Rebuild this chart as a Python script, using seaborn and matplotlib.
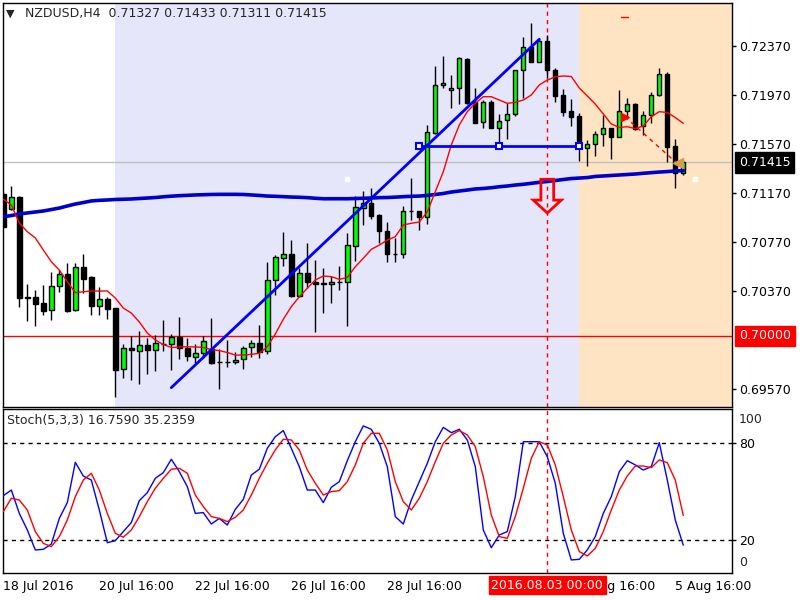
import numpy as np
import pandas as pd
import seaborn as sns
import matplotlib.pyplot as plt
import matplotlib.transforms as mtransforms
from matplotlib.patches import Polygon

# NZDUSD H4 candles, 18 Jul 2016 16:00 .. 5 Aug 2016 20:00
opens = [0.71158, 0.71033, 0.71136, 0.70314, 0.70317, 0.70268, 0.70208, 0.70404, 0.70502, 0.70208,
         0.70559, 0.70480, 0.70246, 0.70301, 0.70225, 0.69727, 0.69897, 0.69879, 0.69925, 0.69886,
         0.69931, 0.69931, 0.69990, 0.69901, 0.69831, 0.69857, 0.69891, 0.69785, 0.69785, 0.69785,
         0.69808, 0.69906, 0.69939, 0.69874, 0.70454, 0.70638, 0.70666, 0.70328, 0.70510, 0.70439,
         0.70427, 0.70421, 0.70437, 0.70437, 0.70737, 0.71041, 0.71082, 0.70989, 0.70856, 0.70670,
         0.70666, 0.71017, 0.71019, 0.70968, 0.71656, 0.72045, 0.72004, 0.72021, 0.72260, 0.71906,
         0.71743, 0.71906, 0.71694, 0.71759, 0.71808, 0.72168, 0.72355, 0.72238, 0.72407, 0.72168,
         0.71966, 0.71833, 0.71795, 0.71531, 0.71563, 0.71645, 0.71695, 0.71621, 0.71835, 0.71891,
         0.71713, 0.71800, 0.71964, 0.72137, 0.71550, 0.71327]
highs = [0.71174, 0.71223, 0.71141, 0.70423, 0.70374, 0.70415, 0.70521, 0.70537, 0.70592, 0.70592,
         0.70668, 0.70488, 0.70396, 0.70314, 0.70227, 0.69933, 0.70001, 0.70039, 0.69982, 0.70007,
         0.70129, 0.70012, 0.70154, 0.69980, 0.69933, 0.69997, 0.70144, 0.69890, 0.69970, 0.69868,
         0.69921, 0.69970, 0.70087, 0.70603, 0.70660, 0.70848, 0.70782, 0.70550, 0.70755, 0.70619,
         0.70551, 0.70488, 0.70570, 0.70839, 0.71141, 0.71182, 0.71207, 0.70994, 0.70929, 0.70801,
         0.71060, 0.71291, 0.71023, 0.71721, 0.72203, 0.72284, 0.72129, 0.72279, 0.72270, 0.72021,
         0.71925, 0.71925, 0.71811, 0.71898, 0.72170, 0.72439, 0.72556, 0.72423, 0.72456, 0.72186,
         0.72015, 0.71931, 0.71821, 0.71597, 0.71675, 0.71803, 0.71695, 0.72007, 0.71940, 0.71898,
         0.71839, 0.71990, 0.72188, 0.72152, 0.71604, 0.71433]
lows = [0.70880, 0.71030, 0.70233, 0.70123, 0.70083, 0.70170, 0.70132, 0.70360, 0.70197, 0.70205,
        0.70347, 0.70170, 0.70170, 0.70140, 0.69503, 0.69658, 0.69639, 0.69607, 0.69688, 0.69715,
        0.69879, 0.69723, 0.69807, 0.69797, 0.69782, 0.69817, 0.69774, 0.69563, 0.69746, 0.69774,
        0.69727, 0.69827, 0.69821, 0.69852, 0.70331, 0.70572, 0.70320, 0.70317, 0.70388, 0.70035,
        0.70189, 0.70270, 0.70374, 0.70083, 0.70611, 0.70902, 0.70954, 0.70755, 0.70605, 0.70605,
        0.70638, 0.70946, 0.70864, 0.70910, 0.71645, 0.72021, 0.71862, 0.71892, 0.71892, 0.71740,
        0.71694, 0.71694, 0.71585, 0.71609, 0.71792, 0.71944, 0.72238, 0.72238, 0.72107, 0.71911,
        0.71797, 0.71713, 0.71430, 0.71389, 0.71472, 0.71550, 0.71446, 0.71621, 0.71795, 0.71684,
        0.71637, 0.71737, 0.71957, 0.71415, 0.71204, 0.71311]
closes = [0.70888, 0.71131, 0.70311, 0.70312, 0.70262, 0.70205, 0.70404, 0.70502, 0.70205, 0.70559,
          0.70466, 0.70246, 0.70301, 0.70219, 0.69721, 0.69898, 0.69884, 0.69925, 0.69886, 0.69940,
          0.69932, 0.69990, 0.69897, 0.69838, 0.69858, 0.69955, 0.69782, 0.69785, 0.69785, 0.69801,
          0.69898, 0.69939, 0.69870, 0.70453, 0.70643, 0.70666, 0.70328, 0.70510, 0.70442, 0.70427,
          0.70427, 0.70437, 0.70437, 0.70739, 0.71049, 0.71082, 0.70981, 0.70853, 0.70670, 0.70670,
          0.71017, 0.71017, 0.70966, 0.71661, 0.72045, 0.72061, 0.72023, 0.72266, 0.71903, 0.71740,
          0.71906, 0.71694, 0.71756, 0.71808, 0.72168, 0.72355, 0.72238, 0.72407, 0.72168, 0.71960,
          0.71830, 0.71789, 0.71544, 0.71563, 0.71645, 0.71695, 0.71621, 0.71835, 0.71891, 0.71690,
          0.71800, 0.71964, 0.72137, 0.71544, 0.71327, 0.71415]

# moving averages
ma_fast = [0.71115, 0.71068, 0.70921, 0.70850, 0.70799, 0.70701, 0.70605, 0.70537, 0.70442, 0.70352,
           0.70360, 0.70366, 0.70366, 0.70366, 0.70309, 0.70227, 0.70186, 0.70113, 0.70023, 0.69966,
           0.69929, 0.69905, 0.69909, 0.69911, 0.69909, 0.69905, 0.69888, 0.69879, 0.69864, 0.69843,
           0.69843, 0.69849, 0.69857, 0.69911, 0.70015, 0.70135, 0.70238, 0.70319, 0.70388, 0.70456,
           0.70488, 0.70483, 0.70461, 0.70476, 0.70564, 0.70633, 0.70706, 0.70741, 0.70782, 0.70809,
           0.70905, 0.70919, 0.70929, 0.71013, 0.71177, 0.71340, 0.71558, 0.71721, 0.71830, 0.71898,
           0.71952, 0.71952, 0.71925, 0.71898, 0.71906, 0.71925, 0.71966, 0.72048, 0.72088, 0.72115,
           0.72121, 0.72117, 0.72023, 0.71958, 0.71892, 0.71811, 0.71729, 0.71701, 0.71707, 0.71692,
           0.71713, 0.71789, 0.71830, 0.71823, 0.71782, 0.71735]
ma_slow = [0.70972, 0.70982, 0.70995, 0.71003, 0.71011, 0.71019, 0.71031, 0.71043, 0.71060, 0.71076,
           0.71088, 0.71101, 0.71106, 0.71109, 0.71113, 0.71115, 0.71117, 0.71121, 0.71125, 0.71129,
           0.71135, 0.71140, 0.71144, 0.71147, 0.71150, 0.71152, 0.71154, 0.71155, 0.71155, 0.71155,
           0.71154, 0.71150, 0.71146, 0.71141, 0.71139, 0.71136, 0.71133, 0.71131, 0.71128, 0.71123,
           0.71119, 0.71119, 0.71119, 0.71119, 0.71121, 0.71123, 0.71125, 0.71128, 0.71129, 0.71132,
           0.71136, 0.71139, 0.71141, 0.71146, 0.71154, 0.71162, 0.71174, 0.71182, 0.71190, 0.71199,
           0.71203, 0.71209, 0.71217, 0.71223, 0.71231, 0.71237, 0.71245, 0.71253, 0.71260, 0.71268,
           0.71276, 0.71284, 0.71288, 0.71292, 0.71301, 0.71305, 0.71309, 0.71313, 0.71317, 0.71321,
           0.71327, 0.71332, 0.71337, 0.71341, 0.71346, 0.71348]

# Stoch(5,3,3): main (blue) and signal (red)
stoch_main = [47.5, 51.0, 36.5, 26.2, 13.8, 14.2, 17.5, 33.4, 43.2, 68.2,
              59.7, 57.2, 38.6, 18.3, 19.6, 25.2, 30.8, 44.4, 49.4, 58.3,
              61.8, 70.1, 62.4, 53.1, 36.5, 37.0, 29.9, 33.4, 29.3, 39.0,
              45.2, 60.3, 63.9, 76.9, 84.1, 87.9, 76.9, 65.5, 51.0, 51.0,
              43.2, 52.7, 56.2, 69.2, 81.0, 90.8, 88.7, 80.0, 65.5, 34.5,
              29.9, 44.8, 56.2, 67.6, 81.0, 89.9, 86.6, 88.7, 82.1, 65.5,
              26.2, 15.2, 23.1, 25.2, 46.9, 81.0, 81.0, 81.0, 71.7, 55.2,
              24.1, 7.6, 8.0, 13.8, 22.1, 36.5, 46.9, 62.4, 69.2, 66.6,
              63.4, 65.5, 80.4, 57.2, 32.4, 16.76]
stoch_signal = [37.6, 45.9, 44.8, 38.6, 25.2, 17.9, 15.9, 22.1, 32.4, 46.9,
                57.2, 61.4, 51.0, 36.5, 24.1, 21.7, 26.2, 34.5, 43.8, 52.1,
                58.3, 63.9, 64.5, 61.4, 47.9, 40.7, 34.5, 33.4, 31.4, 34.1,
                38.6, 47.9, 58.3, 67.6, 75.9, 82.5, 82.1, 75.9, 63.4, 55.2,
                47.9, 50.0, 50.6, 56.2, 66.6, 80.0, 86.2, 86.2, 75.9, 56.2,
                43.8, 38.6, 45.9, 56.2, 68.6, 80.0, 85.2, 87.9, 85.2, 77.9,
                59.3, 35.5, 22.1, 21.0, 34.5, 52.1, 70.7, 81.0, 79.0, 66.6,
                46.9, 26.2, 12.8, 10.1, 14.8, 25.2, 38.6, 51.0, 59.7, 65.9,
                65.9, 64.9, 69.7, 68.0, 57.2, 35.24]

price_ticks = [0.72370, 0.71970, 0.71570, 0.71170, 0.70770, 0.70370, 0.69570]
time_label_bars = [0, 12, 24, 36, 48, 60, 72, 84]
# the 1 Aug label sits fully under the red cursor-date box
time_labels = ['18 Jul 2016', '20 Jul 16:00', '22 Jul 16:00', '26 Jul 16:00',
               '28 Jul 16:00', '', '3 Aug 16:00', '5 Aug 16:00']

# chart objects
last_price = 0.71415
level_price = 0.70000
cursor_bar = 68
zone1 = (14, 72)
zone2 = (72, 95)
trend_x = [21, 67]
trend_y = [0.69577, 0.72421]
hline_x = [52, 62, 72]
hline_y = [0.71552, 0.71552, 0.71552]
trade_x = [77.7, 84.1]
trade_y = [0.71789, 0.71415]
arrow_top, arrow_neck, arrow_tip = 0.71278, 0.71108, 0.71003
dots_x = [43, 86.5]
dots_y = [0.71284, 0.71284]

df = pd.DataFrame({'open': opens, 'high': highs, 'low': lows, 'close': closes})
df['bar'] = np.arange(len(df))
df['ma_fast'] = ma_fast
df['ma_slow'] = ma_slow
df['k'] = stoch_main
df['d'] = stoch_signal

sns.set_style('white')
plt.rcParams['font.family'] = ['DejaVu Sans']

fig = plt.figure(figsize=(8, 6), dpi=100)
ax = fig.add_axes([3/800, 1 - 407/600, 729/800, 404/600])
ax2 = fig.add_axes([3/800, 1 - 573/600, 729/800, 164/600])

# background zones
ax.axvspan(*zone1, color='#E6E6FA', lw=0, zorder=0)
ax.axvspan(*zone2, color='#FFE4C4', lw=0, zorder=0)
ax.axhline(level_price, color='red', lw=1, zorder=1)
ax.axhline(last_price, color='#C0C0C0', lw=1, zorder=1)
for a in (ax, ax2):
    a.axvline(cursor_bar, color='red', lw=1, ls=(0, (3, 3)), zorder=2)

# candles
up = df['close'] >= df['open']
body_lo = np.minimum(df['open'], df['close'])
body_h = np.maximum((df['close'] - df['open']).abs(), 0.00002)
ax.vlines(df['bar'], df['low'], df['high'], color='black', lw=1, zorder=3)
ax.bar(df['bar'][up], body_h[up], bottom=body_lo[up], width=0.55,
       color='#00FF00', edgecolor='black', lw=1, zorder=4)
ax.bar(df['bar'][~up], body_h[~up], bottom=body_lo[~up], width=0.55,
       color='black', edgecolor='black', lw=1, zorder=4)

# indicators
sns.lineplot(data=df, x='bar', y='ma_slow', ax=ax, color='#0000CD', lw=2.6, zorder=5)
sns.lineplot(data=df, x='bar', y='ma_fast', ax=ax, color='red', lw=1, zorder=5)

# drawn objects
ax.plot(trend_x, trend_y, color='#0000FF', lw=2, zorder=6)
ax.plot(hline_x, hline_y, color='#0000FF', lw=2, marker='s', ms=5,
        mfc='white', mec='#0000FF', mew=1.5, zorder=6)
ax.plot(trade_x, trade_y, color='red', lw=1, ls=(0, (3, 3)), zorder=6)
ax.plot(trade_x[0], trade_y[0], marker='>', color='red', ms=6, zorder=7)
ax.plot(trade_x[1] + 0.2, trade_y[1] - 0.00005, marker='<', color='#D2A04A', ms=7, zorder=7)
ax.plot([trade_x[0] - 0.45, trade_x[0] + 0.45], [0.72605, 0.72605], color='red', lw=1, zorder=6)
ax.plot(dots_x, dots_y, 's', color='white', ms=2.5, zorder=6)
arrow = Polygon([(cursor_bar - 0.8, arrow_top), (cursor_bar + 0.8, arrow_top),
                 (cursor_bar + 0.8, arrow_neck), (cursor_bar + 1.75, arrow_neck),
                 (cursor_bar, arrow_tip), (cursor_bar - 1.75, arrow_neck),
                 (cursor_bar - 0.8, arrow_neck)], closed=True,
                fill=False, edgecolor='red', lw=2, zorder=7)
ax.add_patch(arrow)

ax.set_xlim(-0.04, 91.09)
ax.set_ylim(0.69419, 0.72717)
ax.set_xticks([])
ax.set_xlabel('')
ax.set_ylabel('')
ax.yaxis.tick_right()
ax.set_yticks(price_ticks)
ax.set_yticklabels([f'{v:.5f}' for v in price_ticks])
ax.tick_params(axis='y', length=3, width=1, pad=2, labelsize=9, colors='black')

mixed = mtransforms.blended_transform_factory(ax.transAxes, ax.transData)
ax.text(1.0096, last_price, f'{last_price:.5f}', transform=mixed, ha='left', va='center',
        fontsize=9, color='white', zorder=10, clip_on=False,
        bbox=dict(boxstyle='square,pad=0.3', fc='black', ec='black'))
ax.text(1.0096, level_price, f'{level_price:.5f}', transform=mixed, ha='left', va='center',
        fontsize=9, color='white', zorder=10, clip_on=False,
        bbox=dict(boxstyle='square,pad=0.3', fc='red', ec='red'))

# stochastic panel
sns.lineplot(data=df, x='bar', y='k', ax=ax2, color='blue', lw=1, zorder=4)
sns.lineplot(data=df, x='bar', y='d', ax=ax2, color='red', lw=1, zorder=4)
for lvl in (20, 80):
    ax2.axhline(lvl, color='black', lw=1, ls=(0, (3, 3)), zorder=1)
ax2.set_xlim(-0.04, 91.09)
ax2.set_ylim(-0.5, 101.3)
ax2.set_xlabel('')
ax2.set_ylabel('')
ax2.yaxis.tick_right()
ax2.set_yticks([20, 80])
ax2.set_yticklabels(['20', '80'])
ax2.tick_params(axis='y', length=3, width=1, pad=2, labelsize=9, colors='black')
ax2.text(1.0096, 0.933, '100', transform=ax2.transAxes, ha='left', va='center', fontsize=9)
ax2.text(1.0096, 0.061, '0', transform=ax2.transAxes, ha='left', va='center', fontsize=9)
ax2.set_xticks(time_label_bars)
ax2.set_xticklabels(time_labels, ha='left', fontsize=9)
ax2.tick_params(axis='x', length=3, width=1, pad=2, colors='black')
ax2.text(0.0055, 0.927, 'Stoch(5,3,3) 16.7590 35.2359', transform=ax2.transAxes,
         ha='left', va='center', fontsize=9)
xmix = mtransforms.blended_transform_factory(ax2.transData, ax2.transAxes)
ax2.text(cursor_bar, -0.075, '2016.08.03 00:00', transform=xmix, ha='center', va='center',
         fontsize=9, color='white', zorder=10, clip_on=False,
         bbox=dict(boxstyle='square,pad=0.2', fc='red', ec='red'))

for a in (ax, ax2):
    for s in a.spines.values():
        s.set_color('black')
        s.set_linewidth(1)

fig.text(0.008, 0.977, '▼', fontsize=8, ha='left', va='center')
fig.text(0.031, 0.977, 'NZDUSD,H4  0.71327 0.71433 0.71311 0.71415', fontsize=9,
         ha='left', va='center')

fig.savefig('out.png', dpi=100, facecolor='white')
